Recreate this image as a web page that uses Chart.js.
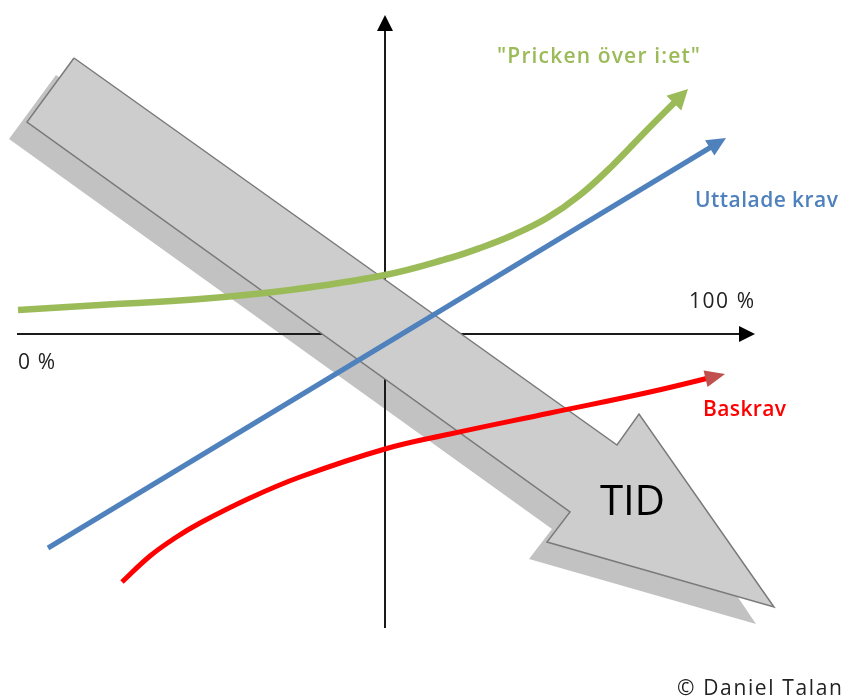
<!DOCTYPE html>
<html lang="sv">
<head>
<meta charset="utf-8">
<title>Krav över tid</title>
<script src="https://cdn.jsdelivr.net/npm/chart.js@4.4.1/dist/chart.umd.min.js"></script>
<style>
  html, body { margin: 0; padding: 0; background: #fff; }
  canvas { display: block; }
</style>
</head>
<body>
<canvas id="kano" width="842" height="697"></canvas>
<script>
// Koordinater: origo i axlarnas korsning, 1 enhet ≈ 100 px, y uppåt

// axlar
const axelXx = [-3.68, 3.70];
const axelXy = [0, 0];
const axelYx = [0, 0];
const axelYy = [-2.94, 3.19];

// "Pricken över i:et"
const prickenX = [-3.67, -2.85, -1.85, -0.95, 0, 0.65, 0.95, 1.28, 1.62, 1.95, 2.28, 2.62, 3.03];
const prickenY = [0.24, 0.29, 0.35, 0.44, 0.59, 0.76, 0.86, 0.99, 1.16, 1.39, 1.69, 2.04, 2.45];

// Uttalade krav
const uttaladeX = [-3.37, 3.41];
const uttaladeY = [-2.14, 1.96];

// Baskrav
const baskravX = [-2.63, -2.35, -2.10, -1.85, -1.35, -0.85, 0, 0.65, 1.65, 2.65, 3.40];
const baskravY = [-2.48, -2.22, -2.04, -1.89, -1.64, -1.43, -1.15, -1.00, -0.79, -0.58, -0.40];

// TID-pilen (framsida och skugga)
const tidX = [-3.11, 2.32, 2.54, 3.89, 1.62, 1.85, -3.58, -3.11];
const tidY = [2.76, -1.11, -0.80, -2.73, -2.08, -1.78, 2.12, 2.76];
const skuggaX = [-3.29, 2.23, 2.43, 3.71, 1.44, 1.67, -3.76, -3.29];
const skuggaY = [2.59, -1.29, -1.00, -2.90, -2.25, -1.95, 1.95, 2.59];

// texter
const etiketter = ['"Pricken över i:et"', 'Uttalade krav', 'Baskrav', '100 %', '0 %', 'TID', '© Daniel Talan'];

function punkter(xs, ys) {
  return xs.map((x, i) => ({ x: x, y: ys[i] }));
}

// placering av texterna (px): vänsterkant, högerkant, baslinje
const textLayout = [
  { left: 497, right: 700, base: 63,  color: '#9bbb59', font: '600 21px "Open Sans"' },
  { left: 695, right: 838, base: 207, color: '#4f81bd', font: '600 21px "Open Sans"' },
  { left: 703, right: 786, base: 416, color: '#ff0000', font: '600 21px "Open Sans"' },
  { left: 689, right: 754, base: 308, color: '#222222', font: '400 21px "Open Sans"' },
  { left: 18,  right: 55,  base: 369, color: '#222222', font: '400 21px "Open Sans"' },
  { left: 600, right: 665, base: 515, color: '#000000', font: '400 42px "Open Sans"' },
  { left: 677, right: 842, base: 695, color: '#222222', font: '400 21px "Open Sans"' }
];

// pilspets i slutet av en linje
function spetsRiktning(meta) {
  const pts = meta.data;
  const last = pts[pts.length - 1];
  let prev = pts[pts.length - 2];
  if (last.cp1x !== undefined && Math.hypot(last.x - last.cp1x, last.y - last.cp1y) > 1) {
    prev = { x: last.cp1x, y: last.cp1y };
  }
  const dx = last.x - prev.x, dy = last.y - prev.y;
  const d = Math.hypot(dx, dy) || 1;
  return { tip: last, ux: dx / d, uy: dy / d };
}

const pilspetsar = {
  id: 'pilspetsar',
  beforeDatasetDraw(chart, args) {
    const ds = chart.data.datasets[args.index];
    const ctx = chart.ctx;
    if (ds.mjuk) {
      // lätt suddig skugga
      ctx.save();
      ctx.filter = 'blur(' + ds.mjuk + 'px)';
      return;
    }
    if (!ds.spets) return;
    const { tip, ux, uy } = spetsRiktning(args.meta);
    const s = ds.spets;
    const bx = tip.x - ux * (s.len - 1), by = tip.y - uy * (s.len - 1);
    const hw = ds.borderWidth / 2 + 2;
    const nx = -uy, ny = ux;
    // klipp bort linjen under spetsen
    ctx.save();
    ctx.beginPath();
    ctx.rect(0, 0, chart.width, chart.height);
    ctx.moveTo(bx + nx * hw, by + ny * hw);
    ctx.lineTo(tip.x + ux * 6 + nx * hw, tip.y + uy * 6 + ny * hw);
    ctx.lineTo(tip.x + ux * 6 - nx * hw, tip.y + uy * 6 - ny * hw);
    ctx.lineTo(bx - nx * hw, by - ny * hw);
    ctx.closePath();
    ctx.clip('evenodd');
  },
  afterDatasetDraw(chart, args) {
    const ds = chart.data.datasets[args.index];
    const ctx = chart.ctx;
    if (ds.mjuk) {
      ctx.restore();
      return;
    }
    if (!ds.spets) return;
    ctx.restore();
    const { tip, ux, uy } = spetsRiktning(args.meta);
    const s = ds.spets;
    const bx = tip.x - ux * s.len, by = tip.y - uy * s.len;
    const nx = -uy, ny = ux;
    ctx.save();
    ctx.fillStyle = s.color;
    ctx.beginPath();
    ctx.moveTo(tip.x, tip.y);
    ctx.lineTo(bx + nx * s.width / 2, by + ny * s.width / 2);
    ctx.lineTo(bx - nx * s.width / 2, by - ny * s.width / 2);
    ctx.closePath();
    ctx.fill();
    ctx.restore();
  }
};

const texter = {
  id: 'texter',
  afterDraw(chart) {
    const ctx = chart.ctx;
    ctx.save();
    ctx.textAlign = 'left';
    ctx.textBaseline = 'alphabetic';
    etiketter.forEach((t, i) => {
      const l = textLayout[i];
      ctx.font = l.font;
      ctx.fillStyle = l.color;
      ctx.letterSpacing = '0px';
      const w = ctx.measureText(t).width;
      const extra = (l.right - l.left - w) / Math.max(1, t.length - 1);
      ctx.letterSpacing = extra.toFixed(2) + 'px';
      ctx.fillText(t, l.left, l.base);
    });
    ctx.restore();
  }
};

const linje = (data, color, width, order, extra) => Object.assign({
  data: data,
  borderColor: color,
  borderWidth: width,
  pointRadius: 0,
  tension: 0,
  fill: false,
  order: order
}, extra || {});

new Chart(document.getElementById('kano'), {
  type: 'line',
  data: {
    datasets: [
      // skugga längst ner
      linje(punkter(skuggaX, skuggaY), 'rgba(0,0,0,0)', 0, 10, { fill: 'shape', backgroundColor: '#c2c2c2', mjuk: 1.2 }),
      // axlar
      linje(punkter(axelXx, axelXy), '#1a1a1a', 2, 8, { spets: { len: 16, width: 16, color: '#000' } }),
      linje(punkter(axelYx, axelYy), '#1a1a1a', 2, 8, { spets: { len: 16, width: 16, color: '#000' } }),
      // TID-pilen
      linje(punkter(tidX, tidY), '#7a7a7a', 1.5, 5, { fill: 'shape', backgroundColor: '#cdcdcd' }),
      // kurvorna
      linje(punkter(prickenX, prickenY), '#9bbb59', 6.5, 1,
        { tension: 0.4, spets: { len: 20, width: 21, color: '#9bbb59' } }),
      linje(punkter(uttaladeX, uttaladeY), '#4f81bd', 5, 1,
        { spets: { len: 19, width: 18, color: '#4f81bd' } }),
      linje(punkter(baskravX, baskravY), '#ff0000', 5, 1,
        { tension: 0.4, spets: { len: 20, width: 17, color: '#c0504d' } })
    ]
  },
  options: {
    responsive: false,
    animation: false,
    layout: { padding: 0 },
    plugins: {
      legend: { display: false },
      tooltip: { enabled: false }
    },
    scales: {
      x: { type: 'linear', min: -3.85, max: 4.57, display: false },
      y: { type: 'linear', min: -3.63, max: 3.34, display: false }
    }
  },
  plugins: [pilspetsar, texter]
});
</script>
</body>
</html>
